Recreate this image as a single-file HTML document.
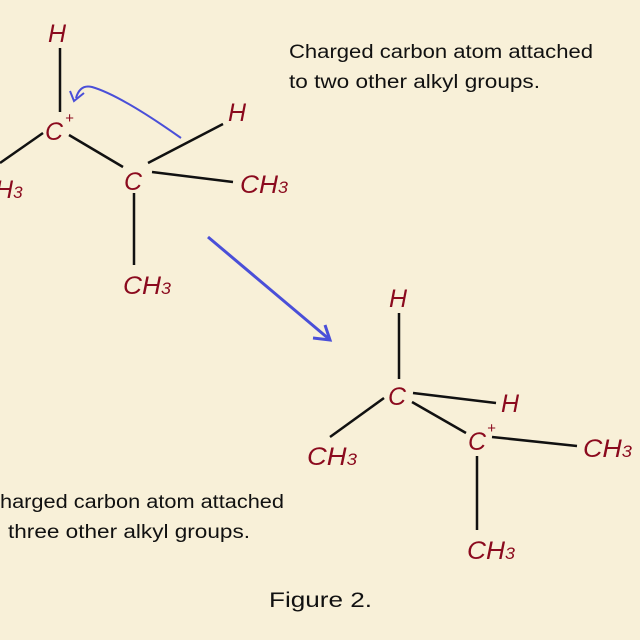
<!DOCTYPE html>
<html><head><style>
html,body{margin:0;padding:0;background:#f8f0d8;}
svg{display:block}
.a{font-family:"Liberation Sans",sans-serif;font-size:25px;fill:#8b0a1e;font-style:italic}
.t{font-family:"Liberation Sans",sans-serif;font-size:19px;fill:#111}
.s{font-size:17px}
.p{font-size:15px}
line{stroke:#111;stroke-width:2.5}
</style></head><body>
<svg width="640" height="640" viewBox="0 0 640 640">
<rect width="640" height="640" fill="#f8f0d8"/>
<!-- top molecule -->
<text class="a" x="48" y="42">H</text>
<line x1="60" y1="48" x2="60" y2="112"/>
<text class="a" x="45" y="140">C</text><text class="a p" x="65" y="123">+</text>
<line x1="43" y1="133" x2="0" y2="163"/>
<text class="a" x="-5" y="198">H<tspan class="s">3</tspan></text>
<line x1="69" y1="135" x2="123" y2="167"/>
<text class="a" x="124" y="190">C</text>
<line x1="148" y1="163" x2="223" y2="124"/>
<text class="a" x="228" y="121">H</text>
<line x1="152" y1="172" x2="233" y2="182"/>
<text class="a" x="240" y="193" textLength="48" lengthAdjust="spacingAndGlyphs">CH<tspan class="s">3</tspan></text>
<line x1="134" y1="193" x2="134" y2="265"/>
<text class="a" x="123" y="294" textLength="48" lengthAdjust="spacingAndGlyphs">CH<tspan class="s">3</tspan></text>
<path d="M181,138 Q120,95 92,87 Q80,84 76,98" fill="none" stroke="#4a4fd8" stroke-width="2"/>
<path d="M70,91 L74,101 L84,93" fill="none" stroke="#4a4fd8" stroke-width="2"/>
<line x1="208" y1="237" x2="329" y2="339" style="stroke:#4a4fd8;stroke-width:3"/>
<path d="M313,338 L330,340 L325,325" fill="none" stroke="#4a4fd8" stroke-width="3"/>
<text class="t" x="289" y="58" textLength="304" lengthAdjust="spacingAndGlyphs">Charged carbon atom attached</text>
<text class="t" x="289" y="88" textLength="251" lengthAdjust="spacingAndGlyphs">to two other alkyl groups.</text>
<!-- bottom molecule -->
<text class="a" x="389" y="307">H</text>
<line x1="399" y1="313" x2="399" y2="379"/>
<text class="a" x="388" y="405">C</text>
<line x1="384" y1="398" x2="330" y2="437"/>
<text class="a" x="307" y="465" textLength="50" lengthAdjust="spacingAndGlyphs">CH<tspan class="s">3</tspan></text>
<line x1="413" y1="393" x2="496" y2="403"/>
<text class="a" x="501" y="412">H</text>
<line x1="412" y1="402" x2="466" y2="433"/>
<text class="a" x="468" y="450">C</text><text class="a p" x="487" y="433">+</text>
<line x1="492" y1="437" x2="577" y2="446"/>
<text class="a" x="583" y="457" textLength="49" lengthAdjust="spacingAndGlyphs">CH<tspan class="s">3</tspan></text>
<line x1="477" y1="456" x2="477" y2="530"/>
<text class="a" x="467" y="559" textLength="48" lengthAdjust="spacingAndGlyphs">CH<tspan class="s">3</tspan></text>
<text class="t" x="0" y="508" textLength="284" lengthAdjust="spacingAndGlyphs">harged carbon atom attached</text>
<text class="t" x="8" y="538" textLength="242" lengthAdjust="spacingAndGlyphs">three other alkyl groups.</text>
<text class="t" x="269" y="607" style="font-size:21px" textLength="103" lengthAdjust="spacingAndGlyphs">Figure 2.</text>
</svg>
</body></html>
